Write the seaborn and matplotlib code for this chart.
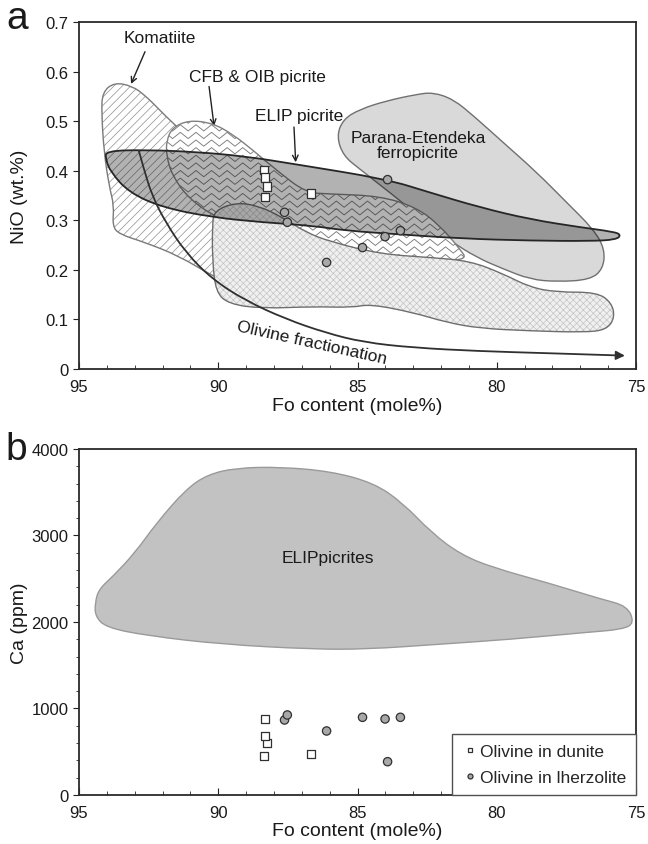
import numpy as np
import pandas as pd
import matplotlib
matplotlib.use("Agg")
import matplotlib.pyplot as plt
import seaborn as sns
from matplotlib.path import Path
from matplotlib.patches import PathPatch, FancyArrowPatch
from matplotlib.collections import LineCollection
from matplotlib.ticker import MultipleLocator

# ---- olivine analyses -------------------------------------------------------
fo_dunite = [88.36, 88.33, 88.24, 88.32, 86.66]
nio_dunite = [0.401, 0.386, 0.368, 0.347, 0.354]
ca_dunite = [451, 879, 598, 682, 477]

fo_lherz = [87.62, 87.52, 86.11, 84.82, 84.01, 83.46, 83.92]
nio_lherz = [0.316, 0.296, 0.215, 0.245, 0.267, 0.279, 0.382]
ca_lherz = [867, 925, 740, 898, 879, 898, 385]

rock_labels = ["Olivine in dunite", "Olivine in lherzolite"]

# ---- compositional fields (Fo, NiO) -----------------------------------------
komatiite_fo = [94.16, 93.74, 93.09, 92.61, 92.13, 91.65, 90.21, 89.02, 87.82, 87.10,
                87.34, 89.02, 90.21, 91.41, 92.61, 93.56, 93.80, 93.74, 93.92, 94.10, 94.19]
komatiite_nio = [0.558, 0.578, 0.571, 0.551, 0.524, 0.497, 0.423, 0.343, 0.249, 0.155,
                 0.136, 0.155, 0.188, 0.228, 0.255, 0.272, 0.289, 0.329, 0.370, 0.437, 0.517]

cfb_fo = [91.86, 91.65, 91.05, 90.21, 89.49, 88.66, 87.82, 86.86, 85.99, 84.19, 82.88,
          82.04, 81.32, 81.06, 82.40, 84.19, 85.99, 86.62, 88.42, 89.97, 91.05, 91.65, 91.86]
cfb_nio = [0.460, 0.487, 0.502, 0.496, 0.474, 0.437, 0.397, 0.356, 0.353, 0.349, 0.326,
           0.289, 0.242, 0.220, 0.218, 0.225, 0.239, 0.245, 0.272, 0.302, 0.343, 0.390, 0.430]

morb_fo = [90.15, 89.37, 88.54, 87.70, 86.86, 85.99, 84.19, 82.40, 80.96, 79.77, 78.81,
           77.85, 76.41, 75.88, 75.76, 76.06, 76.89, 78.81, 80.60, 81.80, 83.00, 84.55,
           85.19, 86.62, 88.42, 89.61, 90.09, 90.21, 90.21]
morb_nio = [0.319, 0.336, 0.329, 0.306, 0.276, 0.257, 0.232, 0.225, 0.218, 0.192, 0.165,
            0.155, 0.155, 0.134, 0.104, 0.079, 0.074, 0.077, 0.082, 0.094, 0.114, 0.131,
            0.124, 0.126, 0.122, 0.131, 0.155, 0.222, 0.289]

parana_fo = [85.75, 85.51, 84.91, 83.96, 82.88, 82.28, 81.56, 80.84, 79.77, 78.57, 77.49,
             76.53, 76.12, 76.18, 76.65, 77.85, 78.81, 79.77, 80.72, 81.68, 82.64, 83.84,
             84.91, 85.51]
parana_nio = [0.470, 0.504, 0.524, 0.541, 0.554, 0.558, 0.544, 0.511, 0.457, 0.397, 0.336,
              0.282, 0.242, 0.202, 0.180, 0.176, 0.181, 0.202, 0.225, 0.259, 0.302, 0.356,
              0.403, 0.430]

elip_fo = [94.04, 92.61, 90.81, 89.02, 87.22, 83.96, 82.40, 80.60, 78.81, 77.01, 75.82,
           75.54, 75.70, 76.65, 78.81, 81.20, 83.60, 85.39, 86.62, 88.42, 90.21, 92.01,
           93.20, 93.86, 94.04]
elip_nio = [0.440, 0.442, 0.438, 0.429, 0.413, 0.383, 0.356, 0.326, 0.302, 0.286, 0.277,
            0.271, 0.261, 0.258, 0.259, 0.263, 0.272, 0.279, 0.289, 0.296, 0.306, 0.326,
            0.356, 0.397, 0.423]

# olivine fractionation trend
trend_fo = [92.85, 92.67, 92.37, 91.89, 91.17, 90.21, 89.02, 87.58, 86.14, 84.79,
            83.00, 80.60, 78.20, 75.40]
trend_nio = [0.440, 0.403, 0.349, 0.296, 0.235, 0.181, 0.138, 0.101, 0.073, 0.054,
             0.043, 0.036, 0.032, 0.027]

# ---- ELIP picrite field (Fo, Ca) ---------------------------------------------
elip_ca_fo = [94.42, 94.29, 93.77, 92.99, 92.21, 91.17, 90.39, 89.35, 87.79, 85.97, 84.42,
              83.38, 82.34, 81.30, 80.13, 78.18, 76.23, 75.32, 75.06, 75.45, 76.88, 79.48,
              82.08, 84.68, 86.62, 89.87, 92.47, 94.03, 94.42]
elip_ca = [2223, 2377, 2531, 2800, 3146, 3531, 3704, 3781, 3792, 3742, 3608,
           3377, 3031, 2781, 2627, 2454, 2262, 2185, 1992, 1915, 1877, 1800,
           1742, 1685, 1685, 1742, 1838, 1935, 2069]

nio_ticks = [0, 0.1, 0.2, 0.3, 0.4, 0.5, 0.6, 0.7]
nio_ticklabels = ["0", "0.1", "0.2", "0.3", "0.4", "0.5", "0.6", "0.7"]
fo_ticks = [95, 90, 85, 80, 75]
ca_ticks = [0, 1000, 2000, 3000, 4000]

# ---- style ----------------------------------------------------------------------
sns.set_style("ticks")
plt.rcParams["font.family"] = ["Liberation Sans", "DejaVu Sans"]
plt.rcParams["hatch.linewidth"] = 0.5
TXT = "#1a1a1a"
ANN = 12.5      # field labels
TICK = 12       # tick labels
LAB = 14        # axis titles


def closed_curve(xs, ys):
    """Smooth closed outline (quadratic B-spline through vertex midpoints)."""
    p = np.column_stack([xs, ys]).astype(float)
    mids = (p + np.roll(p, -1, axis=0)) / 2
    verts = [mids[-1]]
    codes = [Path.MOVETO]
    for i in range(len(p)):
        verts += [p[i], mids[i]]
        codes += [Path.CURVE3, Path.CURVE3]
    return Path(verts, codes)


def open_curve(xs, ys):
    p = np.column_stack([xs, ys]).astype(float)
    verts = [p[0]]
    codes = [Path.MOVETO]
    for i in range(1, len(p) - 1):
        end = p[i + 1] if i == len(p) - 2 else (p[i] + p[i + 1]) / 2
        verts += [p[i], end]
        codes += [Path.CURVE3, Path.CURVE3]
    return Path(verts, codes)


def field(ax, xs, ys, face, edge, lw=1.0, hatch=None, hatch_color=None, z=1, alpha=1.0):
    path = closed_curve(xs, ys)
    body = PathPatch(path, facecolor=face, edgecolor=hatch_color or "none",
                     hatch=hatch, linewidth=0, zorder=z, alpha=alpha)
    ax.add_patch(body)
    ax.add_patch(PathPatch(path, facecolor="none", edgecolor=edge, linewidth=lw,
                           zorder=z + 0.2))
    return body


def herringbone(ax, clip, z):
    row, half, amp = 0.022, 0.014, 0.018
    xs = np.arange(0, 1 + half, half)
    segs = []
    for y0 in np.arange(-amp, 1 + amp, row):
        ys = y0 + amp * (np.arange(len(xs)) % 2)
        segs.append(np.column_stack([xs, ys]))
    lc = LineCollection(segs, transform=ax.transAxes, colors="#7c7c7c",
                        linewidths=0.65, zorder=z)
    lc.set_clip_path(clip)
    ax.add_collection(lc, autolim=False)


df = pd.DataFrame({
    "Fo": fo_dunite + fo_lherz,
    "NiO": nio_dunite + nio_lherz,
    "Ca": ca_dunite + ca_lherz,
    "Rock": [rock_labels[0]] * len(fo_dunite) + [rock_labels[1]] * len(fo_lherz),
})
markers = {rock_labels[0]: "s", rock_labels[1]: "o"}
palette = {rock_labels[0]: "white", rock_labels[1]: "#a8a8a8"}

fig = plt.figure(figsize=(6.48, 8.45), dpi=100)
ax_a = fig.add_axes([0.1219, 0.5621, 0.8596, 0.4107])
ax_b = fig.add_axes([0.1219, 0.0580, 0.8596, 0.4095])

# ---- panel a: NiO vs Fo ---------------------------------------------------------
field(ax_a, parana_fo, parana_nio, "#d9d9d9", "#707070", lw=1.0, z=1)
field(ax_a, komatiite_fo, komatiite_nio, "white", "#7a7a7a", lw=1.0,
      hatch="////", hatch_color="#8f8f8f", z=2)
cfb = field(ax_a, cfb_fo, cfb_nio, "white", "#808080", lw=1.0, z=3)
herringbone(ax_a, cfb, 3.1)
field(ax_a, morb_fo, morb_nio, "#f0f0f0", "#6e6e6e", lw=1.0,
      hatch="xxxxx", hatch_color="#c4c4c4", z=4)
elip_path = closed_curve(elip_fo, elip_nio)
ax_a.add_patch(PathPatch(elip_path, facecolor="black", alpha=0.3, linewidth=0, zorder=5))
ax_a.add_patch(PathPatch(elip_path, facecolor="none", edgecolor="#262626",
                         linewidth=1.3, zorder=5.2))

ax_a.add_patch(FancyArrowPatch(path=open_curve(trend_fo, trend_nio), arrowstyle="-|>",
                               mutation_scale=13, linewidth=1.3, color="#303030",
                               zorder=6))

sns.scatterplot(data=df, x="Fo", y="NiO", hue="Rock", style="Rock", markers=markers,
                palette=palette, s=36, edgecolor="#303030", linewidth=0.9,
                legend=False, zorder=10, ax=ax_a)

arrow_kw = dict(arrowstyle="->", lw=1.0, color="#222222", shrinkA=0, shrinkB=0)
ax_a.text(92.1, 0.668, "Komatiite", ha="center", va="center", fontsize=ANN, color=TXT)
ax_a.annotate("", xy=(93.13, 0.575), xytext=(92.63, 0.640), arrowprops=arrow_kw)
ax_a.text(88.6, 0.591, "CFB & OIB picrite", ha="center", va="center", fontsize=ANN,
          color=TXT)
ax_a.annotate("", xy=(90.15, 0.490), xytext=(90.33, 0.570), arrowprops=arrow_kw)
ax_a.text(87.1, 0.512, "ELIP picrite", ha="center", va="center", fontsize=ANN, color=TXT)
ax_a.annotate("", xy=(87.22, 0.417), xytext=(87.28, 0.488), arrowprops=arrow_kw)
ax_a.text(82.82, 0.452, "Parana-Etendeka\nferropicrite", ha="center", va="center",
          fontsize=ANN, color=TXT, linespacing=1.05)
ax_a.text(78.69, 0.118, "MORB picrite", ha="center", va="center", fontsize=ANN, color=TXT)
ax_a.text(86.65, 0.054, "Olivine fractionation", ha="center", va="center", fontsize=ANN,
          color=TXT, rotation=-12.5, rotation_mode="anchor")

ax_a.set_xlim(95, 75)
ax_a.set_ylim(0, 0.7)
ax_a.set_yticks(nio_ticks)
ax_a.set_yticklabels(nio_ticklabels)
ax_a.set_ylabel("NiO (wt.%)", fontsize=LAB, color=TXT)

# ---- panel b: Ca vs Fo ----------------------------------------------------------
ax_b.add_patch(PathPatch(closed_curve(elip_ca_fo, elip_ca), facecolor="#c2c2c2",
                         edgecolor="#9a9a9a", linewidth=1.0, zorder=1))
ax_b.text(86.05, 2740, "ELIPpicrites", ha="center", va="center", fontsize=ANN, color=TXT)

sns.scatterplot(data=df, x="Fo", y="Ca", hue="Rock", style="Rock", markers=markers,
                palette=palette, s=36, edgecolor="#303030", linewidth=0.9,
                zorder=10, ax=ax_b)
handles, labels = ax_b.get_legend_handles_labels()
ax_b.legend(handles, labels, loc="lower right", borderaxespad=0, frameon=True,
            fancybox=False, edgecolor="#505050", framealpha=1, fontsize=ANN,
            handletextpad=0.1, markerscale=0.6, borderpad=0.55, labelspacing=0.65,
            handlelength=1.0)

ax_b.set_xlim(95, 75)
ax_b.set_ylim(0, 4000)
ax_b.set_yticks(ca_ticks)
ax_b.yaxis.set_minor_locator(MultipleLocator(200))
ax_b.set_ylabel("Ca (ppm)", fontsize=LAB, color=TXT)

for ax in (ax_a, ax_b):
    ax.set_xticks(fo_ticks)
    ax.xaxis.set_minor_locator(MultipleLocator(1))
    ax.set_xlabel("Fo content (mole%)", fontsize=LAB, color=TXT, labelpad=2)
    ax.yaxis.set_label_coords(-0.092, 0.5)
    ax.tick_params(axis="x", which="both", direction="in", colors="#222222",
                   labelsize=TICK, labelcolor=TXT, pad=7)
    ax.tick_params(axis="x", which="major", length=5)
    ax.tick_params(axis="x", which="minor", length=3)
    ax.tick_params(axis="y", which="both", direction="out", colors="#222222",
                   labelsize=TICK, labelcolor=TXT)
    ax.tick_params(axis="y", which="major", length=4)
    ax.tick_params(axis="y", which="minor", length=2.5)
    for sp in ax.spines.values():
        sp.set_visible(True)
        sp.set_color("#2a2a2a")
        sp.set_linewidth(1.3)
    ax.set_facecolor("white")

fig.text(0.027, 0.977, "a", fontsize=28, ha="center", va="center", color=TXT)
fig.text(0.025, 0.468, "b", fontsize=28, ha="center", va="center", color=TXT)

fig.savefig("out.png", dpi=100, facecolor="white")
